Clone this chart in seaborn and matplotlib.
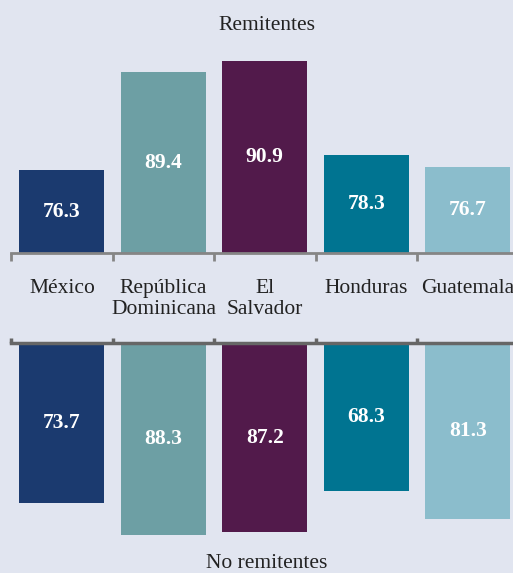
import seaborn as sns
import matplotlib.pyplot as plt
import pandas as pd

countries = ['México', 'República\nDominicana', 'El\nSalvador', 'Honduras', 'Guatemala']
remitentes = [76.3, 89.4, 90.9, 78.3, 76.7]
no_remitentes = [73.7, 88.3, 87.2, 68.3, 81.3]
colors = ['#1b3a6f', '#6d9fa4', '#521a4b', '#007491', '#8bbdcc']

bg = '#e1e5f0'
sns.set_style('white')
plt.rcParams['font.family'] = ['Liberation Serif', 'DejaVu Serif']

df = pd.DataFrame({'pais': countries, 'rem': remitentes, 'norem': no_remitentes})

fig = plt.figure(figsize=(5.13, 5.73), dpi=100)
fig.patch.set_facecolor(bg)

# axes span from first tick (px 11) to past the right edge, like the original
left = 11 / 513
width = 507.5 / 513
ax_top = fig.add_axes([left, 1 - 253 / 573, width, 222.6 / 573])
ax_bot = fig.add_axes([left, 1 - 538.3 / 573, width, 195.3 / 573])


def draw(ax, col, ylim, spine_pos, tick_len, lw, line_color):
    ax.set_facecolor(bg)
    sns.barplot(data=df, x='pais', y=col, hue='pais', palette=colors, legend=False,
                width=0.84, saturation=1, linewidth=0, ax=ax)
    ax.set_xlim(-0.5, 4.5)
    ax.set_ylim(*ylim)
    for i, v in enumerate(df[col]):
        mid = (ylim[0] + v) / 2
        ax.text(i, mid, f'{v:.1f}', ha='center', va='center', color='white',
                fontsize=15.5, fontweight='bold')
    for s in ax.spines.values():
        s.set_visible(False)
    ax.spines[spine_pos].set_visible(True)
    ax.spines[spine_pos].set_color(line_color)
    ax.spines[spine_pos].set_linewidth(lw)
    ax.set_xticks([i - 0.5 for i in range(6)])
    ax.set_xticklabels([])
    ax.tick_params(axis='x', bottom=(spine_pos == 'bottom'), top=(spine_pos == 'top'),
                   direction='out', length=tick_len, width=lw, color=line_color)
    ax.set_yticks([])
    ax.set_xlabel('')
    ax.set_ylabel('')


draw(ax_top, 'rem', (65.2, 95), 'bottom', 6, 2, '#858585')
draw(ax_bot, 'norem', (0, 90), 'top', 3.5, 2.5, '#666666')
ax_bot.invert_yaxis()

# country labels between the two panels
for i, name in enumerate(countries):
    x_px = 62 + 101.5 * i
    fig.text(x_px / 513, 1 - 279 / 573, name, ha='center', va='top', fontsize=15.5,
             color='#222222', linespacing=1.15)

fig.text(267 / 513, 1 - 25 / 573, 'Remitentes', ha='center', va='center',
         fontsize=15.5, color='#222222')
fig.text(267 / 513, 1 - 563 / 573, 'No remitentes', ha='center', va='center',
         fontsize=15.5, color='#222222')

fig.savefig('out.png', dpi=100, facecolor=bg)
